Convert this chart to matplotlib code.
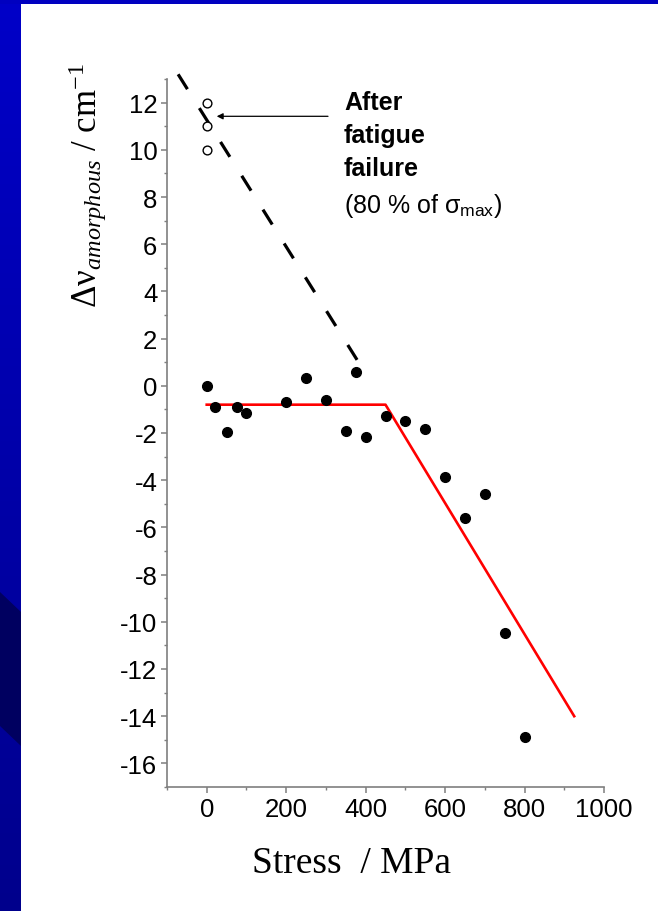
import numpy as np
import matplotlib
matplotlib.use("Agg")
import matplotlib.pyplot as plt
from matplotlib.patches import Rectangle, Polygon

plt.rcParams['mathtext.fontset'] = 'custom'
plt.rcParams['mathtext.rm'] = 'Liberation Serif'
plt.rcParams['mathtext.it'] = 'Liberation Serif:italic'
plt.rcParams['mathtext.sf'] = 'Liberation Sans'
plt.rcParams['axes.unicode_minus'] = False

# data
stress = [0, 20, 50, 75, 100, 200, 250, 300, 350, 375, 400, 450, 500, 550,
          600, 650, 700, 750, 800]
shift = [0.0, -0.9, -1.95, -0.9, -1.15, -0.67, 0.32, -0.6, -1.92, 0.57, -2.18,
         -1.28, -1.48, -1.84, -3.85, -5.6, -4.58, -10.46, -14.9]

fatigue_x = [0, 0, 0]
fatigue_y = [12, 11, 10]

fit_x = [0, 450, 925]
fit_y = [-0.8, -0.8, -14.0]

trend_x = [-72, 384]
trend_y = [13.2, 0.95]

W, H = 658, 912
fig = plt.figure(figsize=(W / 100, H / 100), dpi=100)

# blue slide frame
bar = fig.add_axes([0, 0, 21 / W, 1])
grad = np.linspace(0, 1, 256).reshape(-1, 1)
bar.imshow(grad, aspect='auto', extent=[0, 1, 0, 1], origin='upper',
           cmap=matplotlib.colors.LinearSegmentedColormap.from_list(
               'b', ['#0000c8', '#00008c']))
bar.add_patch(Polygon([[0, 1 - 593 / H], [1, 1 - 613 / H], [1, 1 - 747 / H], [0, 1 - 727 / H]],
                      closed=True, color='#000060', lw=0))
bar.set_xlim(0, 1)
bar.set_ylim(0, 1)
bar.axis('off')
fig.patches.append(Rectangle((0, 1 - 5 / H), 1, 5 / H, transform=fig.transFigure,
                             color='#0000c0', lw=0, zorder=5))

ax = fig.add_axes([167 / W, (H - 788) / H, (604 - 167) / W, (788 - 80) / H])

ax.plot(trend_x, trend_y, color='black', lw=2.3, dashes=(5.5, 7.0),
        clip_on=False, zorder=2)
ax.plot(fit_x, fit_y, color='red', lw=1.9, zorder=3)
ax.plot(stress, shift, 'o', color='black', ms=7, zorder=4)
ax.plot(fatigue_x, fatigue_y, 'o', mfc='white', mec='black', mew=1.0, ms=6.3,
        zorder=4)

ax.set_xlim(-100, 1000)
ax.set_ylim(-17, 13)
ax.set_xticks(range(0, 1001, 200))
ax.set_xticks(range(-100, 1001, 100), minor=True)
ax.set_yticks(range(-16, 13, 2))
ax.set_yticks(range(-17, 14, 1), minor=True)

for s in ['top', 'right']:
    ax.spines[s].set_visible(False)
for s in ['left', 'bottom']:
    ax.spines[s].set_color('#7f7f7f')
    ax.spines[s].set_linewidth(1.2)

ax.tick_params(which='major', direction='out', length=4, width=1.1,
               color='#7f7f7f', labelsize=18.5, pad=3)
ax.tick_params(which='minor', direction='out', length=2.5, width=1.0,
               color='#7f7f7f')
for lab in ax.get_xticklabels() + ax.get_yticklabels():
    lab.set_family('Liberation Sans')

# annotation
ax.annotate('', xy=(216.7, H - 117.3), xycoords='figure pixels',
            xytext=(328, H - 117.3), textcoords='figure pixels',
            arrowprops=dict(arrowstyle='-|>', color='black', lw=0.9,
                            mutation_scale=9, shrinkA=0, shrinkB=0))
fig.text(344 / W, 1 - 103 / H, 'After', family='Liberation Sans',
         weight='bold', fontsize=18, va='center')
fig.text(344 / W, 1 - 136 / H, 'fatigue', family='Liberation Sans',
         weight='bold', fontsize=18, va='center')
fig.text(344 / W, 1 - 169 / H, 'failure', family='Liberation Sans',
         weight='bold', fontsize=18, va='center')
fig.text(344 / W, 1 - 206 / H, r'(80 % of σ$_{\mathsf{max}}$)',
         family='Liberation Sans', fontsize=18, va='center')

# axis titles
fig.text(88 / W, 1 - 186 / H, r'Δν$_{amorphous}$ / cm$^{\mathrm{-1}}$',
         family='Liberation Serif', fontsize=25, rotation=90,
         ha='center', va='center')
fig.text(352 / W, 1 - 864 / H, 'Stress  / MPa', family='Liberation Serif',
         fontsize=27, ha='center', va='center')

fig.savefig('out.png', dpi=100)
